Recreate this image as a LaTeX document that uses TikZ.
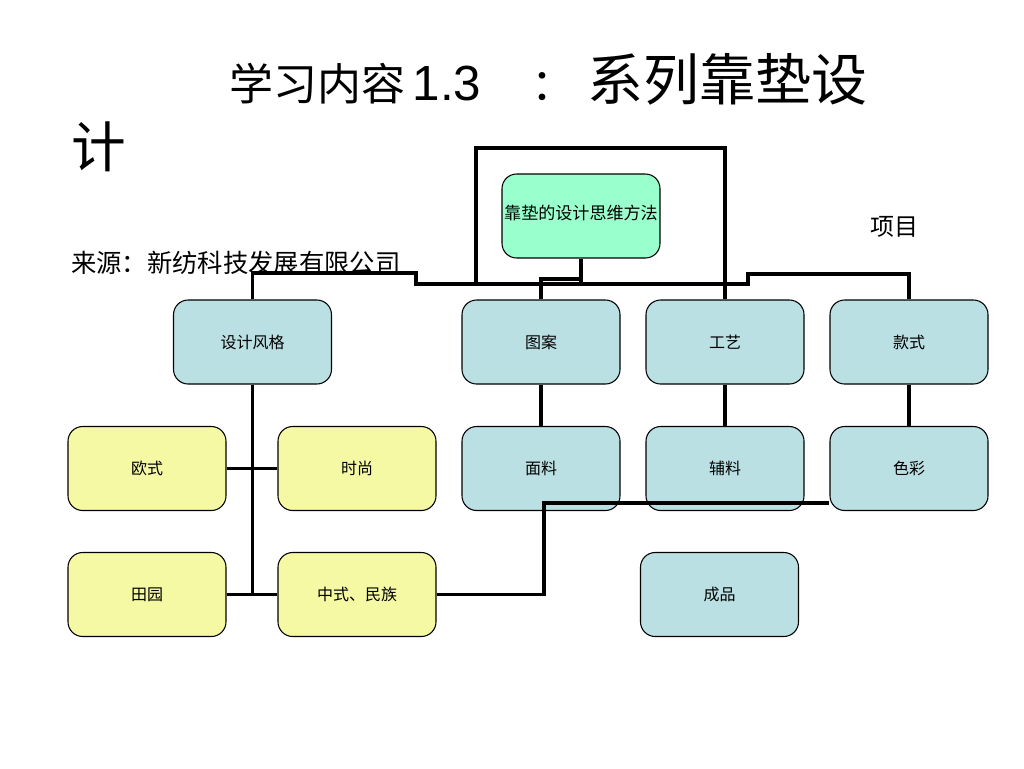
\documentclass[tikz,border=0pt]{standalone}
\usepackage{fontspec}
\setmainfont{Noto Sans CJK SC}
\setsansfont{Liberation Sans}
\definecolor{fangfagreen}{HTML}{99FFCC}
\definecolor{itemblue}{HTML}{BBE0E3}
\definecolor{styleyellow}{HTML}{F5F9A3}
\begin{document}
	\begin{tikzpicture}[x=0.75pt, y=-0.75pt,
		box/.style={draw, line width=0.8pt, rounded corners=11pt, minimum width=118.5pt, minimum height=63pt, inner sep=0pt, font=\fontsize{12}{14}\selectfont},
		bluebox/.style={box, fill=itemblue},
		yellowbox/.style={box, fill=styleyellow},
		conn/.style={line width=2.6pt}]
		\useasboundingbox (0,0) rectangle (1024,768);
		\node[anchor=base west, inner sep=0pt] (title) at (229,100) {{\fontsize{33}{40}\selectfont 学习内容\,{\fontsize{37}{40}\sffamily 1.3}\hspace{38pt}：\hspace{9pt}}{\fontsize{42}{48}\selectfont 系列靠垫设}};
		\node[anchor=base west, inner sep=0pt] (title2) at (71,167) {\fontsize{41}{48}\selectfont 计};
		\node[anchor=base west, inner sep=0pt] (source) at (71,272) {\fontsize{19}{22}\selectfont 来源：新纺科技发展有限公司};
		\node[anchor=base west, inner sep=0pt] (xiangmu) at (870,235) {\fontsize{18}{22}\selectfont 项目};
		\node[box, fill=fangfagreen, font=\fontsize{12.8}{15}\selectfont] (fangfa) at (581,216) {\raisebox{5pt}{靠垫的设计思维方法}};
		\node[bluebox] (fengge) at (252.5,342) {设计风格};
		\node[bluebox] (tuan) at (541,342) {图案};
		\node[bluebox] (gongyi) at (725,342) {工艺};
		\node[bluebox] (kuanshi) at (909,342) {款式};
		\node[yellowbox] (oushi) at (147,468.5) {欧式};
		\node[yellowbox] (shishang) at (357,468.5) {时尚};
		\node[bluebox] (mianliao) at (541,468.5) {面料};
		\node[bluebox] (fuliao) at (725,468.5) {辅料};
		\node[bluebox] (secai) at (909,468.5) {色彩};
		\node[yellowbox] (tianyuan) at (147,594.5) {田园};
		\node[yellowbox] (zhongshi) at (357,594.5) {中式、民族};
		\node[bluebox] (chengpin) at (719.5,594.5) {成品};
		\coordinate (frame) at (476,284);
		\coordinate (step1) at (416,273);
		\coordinate (step2) at (748,284);
		\coordinate (step3) at (909,274);
		\coordinate (tuanstep) at (581,279);
		\coordinate (turn) at (544,503);
		\draw[conn] (frame) -- (476,148) -| (gongyi.north);
		\draw[conn] (fengge.north) |- (step1) |- (step2) |- (step3) -- (kuanshi.north);
		\draw[conn] (fangfa.south) -- (fangfa.south |- step2);
		\draw[conn] (tuan.north) |- (tuanstep);
		\draw[conn] (fengge.south) -- (fengge.south |- zhongshi.west);
		\draw[conn] (oushi.east) -- (shishang.west);
		\draw[conn] (tianyuan.east) -- (zhongshi.west);
		\draw[conn] (zhongshi.east) -| (turn) -- (turn -| secai.west);
		\draw[conn] (tuan.south) -- (mianliao.north);
		\draw[conn] (gongyi.south) -- (fuliao.north);
		\draw[conn] (kuanshi.south) -- (secai.north);
	\end{tikzpicture}
\end{document}
